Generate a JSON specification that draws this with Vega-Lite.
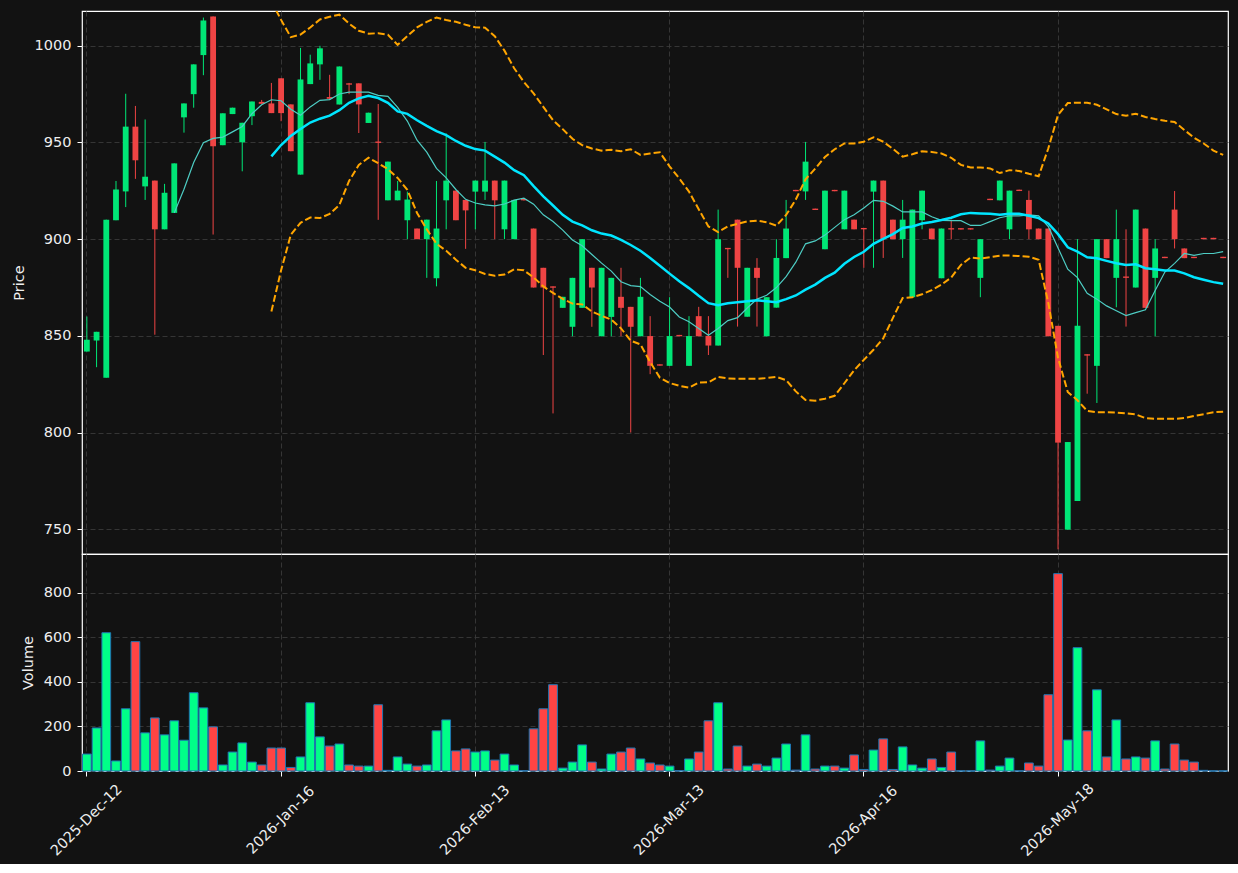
{
"$schema": "https://vega.github.io/schema/vega-lite/v6.json",
"background": "#121212",
"padding": {"left": 10, "top": 10, "right": 10, "bottom": 5},
"bounds": "flush",
"spacing": 0,
"config": {
 "view": {"stroke": "#ffffff", "strokeWidth": 1.2},
 "axis": {"domain": false, "labelColor": "#eeeeee", "titleColor": "#eeeeee", "labelFont": "DejaVu Sans", "titleFont": "DejaVu Sans", "labelFontSize": 14.5, "titleFontSize": 14.5, "titleFontWeight": "normal", "tickColor": "#ffffff", "tickSize": 5, "tickWidth": 1, "labelPadding": 6, "titlePadding": 8, "gridColor": "#3a3a3a", "gridDash": [5, 3], "gridWidth": 0.9}
},
"data": {"values": [
{"date":"2025-Dec-12","o":841.9,"h":860.0,"l":841.9,"c":848.0,"v":76},
{"date":"2025-Dec-15","o":847.6,"h":852.1,"l":833.8,"c":852.1,"v":193},
{"date":"2025-Dec-16","o":828.4,"h":910.1,"l":828.4,"c":910.1,"v":620},
{"date":"2025-Dec-17","o":909.8,"h":930.1,"l":909.8,"c":925.7,"v":45},
{"date":"2025-Dec-18","o":924.7,"h":975.2,"l":916.6,"c":958.2,"v":279},
{"date":"2025-Dec-19","o":958.2,"h":968.9,"l":931.2,"c":940.8,"v":580},
{"date":"2025-Dec-22","o":927.3,"h":961.9,"l":920.3,"c":932.3,"v":171},
{"date":"2025-Dec-23","o":930.3,"h":930.3,"l":850.6,"c":905.1,"v":238},
{"date":"2025-Dec-29","o":905.1,"h":928.6,"l":905.1,"c":924.0,"v":162},
{"date":"2025-Dec-30","o":913.6,"h":939.2,"l":913.6,"c":939.2,"v":225,"ma10":913.6},
{"date":"2025-Dec-31","o":963.0,"h":970.2,"l":955.1,"c":970.2,"v":138,"ma10":925.8},
{"date":"2026-Jan-05","o":975.0,"h":990.4,"l":968.0,"c":990.4,"v":351,"ma10":939.6},
{"date":"2026-Jan-06","o":995.2,"h":1014.6,"l":984.8,"c":1013.1,"v":283,"ma10":949.9},
{"date":"2026-Jan-07","o":1015.2,"h":1015.2,"l":902.4,"c":948.0,"v":198,"ma10":952.1},
{"date":"2026-Jan-08","o":948.6,"h":965.1,"l":948.6,"c":965.1,"v":27,"ma10":952.8},
{"date":"2026-Jan-09","o":964.7,"h":968.0,"l":964.7,"c":968.0,"v":85,"ma10":955.5},
{"date":"2026-Jan-12","o":950.1,"h":960.2,"l":935.1,"c":960.2,"v":126,"ma10":958.3},
{"date":"2026-Jan-13","o":963.6,"h":971.2,"l":959.0,"c":971.2,"v":40,"ma10":964.9},
{"date":"2026-Jan-14","o":971.0,"h":972.0,"l":970.0,"c":970.0,"v":27,"ma10":969.5},
{"date":"2026-Jan-15","o":970.2,"h":980.8,"l":965.2,"c":965.2,"v":103,"ma10":972.1,"ma20":942.8,"up":1023.0,"lo":862.6},
{"date":"2026-Jan-16","o":983.2,"h":983.2,"l":961.0,"c":965.2,"v":103,"ma10":971.6,"ma20":948.7,"up":1013.4,"lo":883.9},
{"date":"2026-Jan-19","o":969.7,"h":969.7,"l":945.5,"c":945.5,"v":16,"ma10":967.2,"ma20":953.4,"up":1004.5,"lo":902.3},
{"date":"2026-Jan-20","o":933.4,"h":998.9,"l":933.4,"c":982.6,"v":63,"ma10":964.1,"ma20":957.0,"up":1005.8,"lo":908.5},
{"date":"2026-Jan-21","o":980.2,"h":995.4,"l":980.2,"c":990.9,"v":306,"ma10":968.4,"ma20":960.3,"up":1009.5,"lo":911.2},
{"date":"2026-Jan-22","o":990.4,"h":1000.0,"l":982.4,"c":998.7,"v":153,"ma10":971.8,"ma20":962.3,"up":1013.6,"lo":910.9},
{"date":"2026-Jan-23","o":973.5,"h":985.0,"l":972.0,"c":972.6,"v":112,"ma10":972.2,"ma20":963.9,"up":1015.0,"lo":913.1},
{"date":"2026-Jan-26","o":969.7,"h":989.3,"l":969.7,"c":989.3,"v":121,"ma10":975.1,"ma20":966.7,"up":1016.1,"lo":917.7},
{"date":"2026-Jan-27","o":980.6,"h":980.8,"l":975.0,"c":979.9,"v":27,"ma10":976.0,"ma20":970.5,"up":1011.5,"lo":930.1},
{"date":"2026-Jan-28","o":980.6,"h":980.6,"l":954.9,"c":969.7,"v":22,"ma10":976.0,"ma20":972.8,"up":1007.8,"lo":938.4},
{"date":"2026-Jan-29","o":960.1,"h":965.4,"l":960.1,"c":965.4,"v":22,"ma10":976.0,"ma20":974.1,"up":1006.3,"lo":942.1},
{"date":"2026-Jan-30","o":950.5,"h":969.9,"l":910.0,"c":949.8,"v":297,"ma10":974.4,"ma20":973.0,"up":1006.5,"lo":939.3},
{"date":"2026-Feb-02","o":920.1,"h":940.1,"l":920.1,"c":940.1,"v":3,"ma10":973.9,"ma20":970.5,"up":1005.7,"lo":936.2},
{"date":"2026-Feb-03","o":920.1,"h":930.1,"l":920.1,"c":925.1,"v":63,"ma10":968.2,"ma20":966.1,"up":1000.5,"lo":931.7},
{"date":"2026-Feb-04","o":909.8,"h":924.6,"l":900.0,"c":920.5,"v":31,"ma10":961.1,"ma20":964.8,"up":1005.0,"lo":925.5},
{"date":"2026-Feb-05","o":905.5,"h":905.5,"l":900.0,"c":900.0,"v":22,"ma10":951.2,"ma20":961.5,"up":1009.5,"lo":913.5},
{"date":"2026-Feb-06","o":900.0,"h":910.1,"l":880.0,"c":910.1,"v":27,"ma10":945.0,"ma20":958.6,"up":1012.4,"lo":905.1},
{"date":"2026-Feb-09","o":879.8,"h":930.1,"l":875.6,"c":905.5,"v":180,"ma10":936.6,"ma20":955.9,"up":1014.6,"lo":897.7},
{"date":"2026-Feb-10","o":920.1,"h":954.7,"l":905.1,"c":930.3,"v":229,"ma10":931.7,"ma20":953.8,"up":1013.3,"lo":894.0},
{"date":"2026-Feb-11","o":925.1,"h":925.1,"l":909.8,"c":909.8,"v":90,"ma10":925.7,"ma20":950.8,"up":1012.4,"lo":889.4},
{"date":"2026-Feb-12","o":920.3,"h":920.3,"l":895.0,"c":914.9,"v":99,"ma10":920.6,"ma20":948.3,"up":1010.9,"lo":885.2},
{"date":"2026-Feb-13","o":924.6,"h":930.3,"l":905.1,"c":930.3,"v":85,"ma10":918.7,"ma20":946.6,"up":1009.6,"lo":883.9},
{"date":"2026-Feb-16","o":924.6,"h":950.3,"l":920.3,"c":930.3,"v":90,"ma10":917.7,"ma20":945.8,"up":1009.4,"lo":882.0},
{"date":"2026-Feb-17","o":930.3,"h":930.3,"l":900.0,"c":920.1,"v":49,"ma10":917.2,"ma20":942.7,"up":1005.0,"lo":881.1},
{"date":"2026-Feb-18","o":905.1,"h":930.3,"l":900.0,"c":930.3,"v":76,"ma10":918.2,"ma20":939.6,"up":997.5,"lo":881.7},
{"date":"2026-Feb-19","o":900.0,"h":920.3,"l":900.0,"c":920.3,"v":27,"ma10":920.2,"ma20":935.7,"up":988.4,"lo":884.4},
{"date":"2026-Feb-20","o":920.8,"h":920.8,"l":920.0,"c":920.1,"v":1,"ma10":921.2,"ma20":933.1,"up":981.3,"lo":883.9},
{"date":"2026-Feb-23","o":905.5,"h":905.5,"l":875.0,"c":875.0,"v":189,"ma10":918.1,"ma20":927.4,"up":975.4,"lo":880.2},
{"date":"2026-Feb-24","o":885.2,"h":885.2,"l":840.1,"c":875.0,"v":279,"ma10":912.6,"ma20":922.1,"up":968.4,"lo":875.6},
{"date":"2026-Feb-25","o":875.6,"h":875.6,"l":809.9,"c":874.9,"v":387,"ma10":909.1,"ma20":917.4,"up":961.5,"lo":872.2},
{"date":"2026-Feb-26","o":864.5,"h":870.2,"l":864.5,"c":870.2,"v":13,"ma10":904.7,"ma20":912.6,"up":956.9,"lo":869.1},
{"date":"2026-Feb-27","o":854.7,"h":880.0,"l":849.8,"c":880.0,"v":40,"ma10":899.6,"ma20":909.1,"up":951.9,"lo":866.7},
{"date":"2026-Mar-02","o":864.5,"h":900.0,"l":864.5,"c":900.0,"v":117,"ma10":896.6,"ma20":907.1,"up":948.6,"lo":866.3},
{"date":"2026-Mar-03","o":885.2,"h":885.2,"l":854.7,"c":875.0,"v":40,"ma10":892.1,"ma20":904.6,"up":946.9,"lo":862.6},
{"date":"2026-Mar-04","o":849.8,"h":885.2,"l":849.8,"c":885.2,"v":9,"ma10":887.6,"ma20":902.9,"up":945.8,"lo":860.4},
{"date":"2026-Mar-05","o":859.8,"h":880.0,"l":849.8,"c":880.0,"v":76,"ma10":883.5,"ma20":901.9,"up":946.2,"lo":858.4},
{"date":"2026-Mar-06","o":870.2,"h":885.2,"l":849.8,"c":864.5,"v":85,"ma10":878.0,"ma20":899.6,"up":945.5,"lo":853.9},
{"date":"2026-Mar-09","o":865.0,"h":865.0,"l":800.0,"c":854.7,"v":103,"ma10":876.0,"ma20":897.0,"up":946.5,"lo":847.5},
{"date":"2026-Mar-10","o":849.8,"h":880.0,"l":849.8,"c":870.2,"v":54,"ma10":875.5,"ma20":894.0,"up":943.6,"lo":845.6},
{"date":"2026-Mar-11","o":849.9,"h":860.2,"l":830.2,"c":834.5,"v":36,"ma10":871.4,"ma20":890.3,"up":944.3,"lo":836.5},
{"date":"2026-Mar-12","o":835.3,"h":835.3,"l":834.6,"c":834.6,"v":27,"ma10":867.9,"ma20":886.3,"up":944.9,"lo":828.4},
{"date":"2026-Mar-13","o":834.5,"h":870.0,"l":834.5,"c":849.9,"v":22,"ma10":864.9,"ma20":882.2,"up":937.7,"lo":825.6},
{"date":"2026-Mar-16","o":850.5,"h":850.5,"l":849.8,"c":849.8,"v":1,"ma10":859.8,"ma20":878.2,"up":931.4,"lo":824.2},
{"date":"2026-Mar-17","o":834.5,"h":860.2,"l":834.5,"c":849.9,"v":54,"ma10":857.3,"ma20":874.7,"up":924.6,"lo":823.2},
{"date":"2026-Mar-18","o":860.2,"h":865.0,"l":849.8,"c":849.8,"v":85,"ma10":853.8,"ma20":870.7,"up":915.5,"lo":825.8},
{"date":"2026-Mar-19","o":850.0,"h":860.2,"l":840.1,"c":845.0,"v":225,"ma10":850.3,"ma20":866.9,"up":906.6,"lo":826.0},
{"date":"2026-Mar-23","o":845.0,"h":915.3,"l":845.0,"c":900.0,"v":306,"ma10":853.8,"ma20":865.9,"up":903.7,"lo":828.8},
{"date":"2026-Mar-24","o":895.5,"h":895.5,"l":880.0,"c":894.8,"v":9,"ma10":857.9,"ma20":866.9,"up":906.6,"lo":828.0},
{"date":"2026-Mar-25","o":910.1,"h":910.1,"l":854.8,"c":885.2,"v":112,"ma10":859.4,"ma20":867.4,"up":907.9,"lo":827.8},
{"date":"2026-Mar-26","o":859.9,"h":885.2,"l":859.9,"c":885.2,"v":22,"ma10":864.4,"ma20":867.9,"up":909.2,"lo":827.8},
{"date":"2026-Mar-30","o":885.2,"h":890.2,"l":854.8,"c":880.0,"v":31,"ma10":869.0,"ma20":868.4,"up":909.6,"lo":827.8},
{"date":"2026-Mar-31","o":849.8,"h":870.0,"l":849.8,"c":870.0,"v":22,"ma10":871.0,"ma20":867.9,"up":908.8,"lo":828.2},
{"date":"2026-Apr-01","o":864.6,"h":900.0,"l":864.6,"c":890.3,"v":58,"ma10":875.0,"ma20":867.4,"up":907.0,"lo":828.8},
{"date":"2026-Apr-02","o":890.2,"h":920.3,"l":890.2,"c":905.5,"v":121,"ma10":880.6,"ma20":869.0,"up":912.5,"lo":827.1},
{"date":"2026-Apr-07","o":925.5,"h":925.5,"l":924.8,"c":924.8,"v":4,"ma10":888.1,"ma20":870.9,"up":920.5,"lo":821.3},
{"date":"2026-Apr-08","o":924.7,"h":950.3,"l":920.3,"c":940.1,"v":162,"ma10":897.6,"ma20":873.9,"up":931.0,"lo":816.8},
{"date":"2026-Apr-09","o":915.8,"h":915.8,"l":915.1,"c":915.1,"v":9,"ma10":899.1,"ma20":876.5,"up":936.5,"lo":816.5},
{"date":"2026-Apr-10","o":894.8,"h":925.1,"l":894.8,"c":925.1,"v":22,"ma10":902.1,"ma20":880.0,"up":942.5,"lo":817.5},
{"date":"2026-Apr-13","o":925.5,"h":925.5,"l":924.8,"c":924.8,"v":22,"ma10":906.1,"ma20":882.7,"up":946.5,"lo":819.0},
{"date":"2026-Apr-14","o":905.1,"h":925.1,"l":905.1,"c":925.1,"v":13,"ma10":910.1,"ma20":887.3,"up":949.5,"lo":825.5},
{"date":"2026-Apr-15","o":910.1,"h":910.1,"l":905.1,"c":905.1,"v":72,"ma10":912.6,"ma20":890.8,"up":949.5,"lo":832.2},
{"date":"2026-Apr-16","o":905.8,"h":905.8,"l":885.2,"c":905.1,"v":7,"ma10":916.1,"ma20":893.5,"up":950.4,"lo":837.6},
{"date":"2026-Apr-17","o":924.6,"h":930.3,"l":885.2,"c":930.3,"v":94,"ma10":920.1,"ma20":897.6,"up":952.7,"lo":842.8},
{"date":"2026-Apr-20","o":930.3,"h":930.3,"l":890.3,"c":900.0,"v":144,"ma10":919.6,"ma20":900.1,"up":950.4,"lo":848.7},
{"date":"2026-Apr-21","o":910.1,"h":910.1,"l":900.0,"c":900.0,"v":7,"ma10":917.1,"ma20":902.6,"up":946.7,"lo":859.3},
{"date":"2026-Apr-22","o":900.0,"h":920.3,"l":890.3,"c":910.1,"v":108,"ma10":914.1,"ma20":905.8,"up":942.7,"lo":869.6},
{"date":"2026-Apr-23","o":870.0,"h":915.3,"l":870.0,"c":915.3,"v":27,"ma10":914.1,"ma20":906.6,"up":943.9,"lo":870.0},
{"date":"2026-Apr-27","o":909.8,"h":925.1,"l":905.1,"c":925.1,"v":13,"ma10":914.1,"ma20":908.1,"up":945.5,"lo":871.5},
{"date":"2026-Apr-28","o":905.5,"h":905.5,"l":900.0,"c":900.0,"v":54,"ma10":911.6,"ma20":908.9,"up":945.1,"lo":873.7},
{"date":"2026-Apr-29","o":879.8,"h":905.5,"l":879.8,"c":905.5,"v":16,"ma10":909.7,"ma20":909.9,"up":944.3,"lo":876.5},
{"date":"2026-Apr-30","o":905.7,"h":910.1,"l":900.0,"c":905.0,"v":85,"ma10":909.6,"ma20":911.1,"up":942.1,"lo":880.2},
{"date":"2026-May-04","o":905.7,"h":905.7,"l":905.0,"c":905.0,"v":0,"ma10":909.6,"ma20":912.9,"up":938.4,"lo":886.7},
{"date":"2026-May-05","o":905.7,"h":905.7,"l":905.0,"c":905.0,"v":0,"ma10":907.1,"ma20":913.6,"up":937.1,"lo":890.5},
{"date":"2026-May-06","o":880.0,"h":900.0,"l":870.0,"c":900.0,"v":135,"ma10":907.1,"ma20":913.3,"up":937.1,"lo":890.0},
{"date":"2026-May-07","o":920.9,"h":920.9,"l":920.2,"c":920.2,"v":4,"ma10":909.1,"ma20":913.1,"up":936.6,"lo":890.7},
{"date":"2026-May-08","o":920.1,"h":930.3,"l":920.1,"c":930.3,"v":22,"ma10":911.1,"ma20":912.6,"up":934.2,"lo":891.5},
{"date":"2026-May-11","o":905.1,"h":925.1,"l":900.0,"c":925.1,"v":58,"ma10":912.1,"ma20":913.1,"up":935.7,"lo":891.5},
{"date":"2026-May-12","o":925.6,"h":925.6,"l":924.9,"c":924.9,"v":0,"ma10":912.1,"ma20":913.1,"up":935.3,"lo":891.3},
{"date":"2026-May-13","o":920.3,"h":925.1,"l":900.0,"c":905.1,"v":36,"ma10":912.6,"ma20":912.1,"up":933.8,"lo":890.9},
{"date":"2026-May-14","o":905.5,"h":905.5,"l":900.0,"c":900.0,"v":22,"ma10":912.1,"ma20":910.9,"up":932.5,"lo":889.4},
{"date":"2026-May-15","o":905.5,"h":905.5,"l":849.8,"c":849.8,"v":342,"ma10":906.5,"ma20":908.1,"up":947.0,"lo":867.0},
{"date":"2026-May-18","o":855.2,"h":855.2,"l":739.6,"c":794.8,"v":885,"ma10":895.5,"ma20":902.6,"up":964.3,"lo":838.6},
{"date":"2026-May-19","o":749.8,"h":795.1,"l":749.8,"c":795.1,"v":139,"ma10":884.5,"ma20":895.8,"up":970.4,"lo":821.0},
{"date":"2026-May-20","o":764.6,"h":900.0,"l":764.6,"c":855.2,"v":553,"ma10":880.1,"ma20":893.6,"up":970.6,"lo":816.7},
{"date":"2026-May-21","o":840.5,"h":840.5,"l":820.1,"c":839.8,"v":180,"ma10":872.0,"ma20":890.6,"up":970.6,"lo":811.2},
{"date":"2026-May-22","o":834.5,"h":900.0,"l":815.3,"c":900.0,"v":364,"ma10":869.0,"ma20":890.1,"up":969.5,"lo":810.5},
{"date":"2026-May-26","o":900.0,"h":900.0,"l":890.2,"c":890.2,"v":63,"ma10":865.5,"ma20":888.8,"up":967.1,"lo":810.5},
{"date":"2026-May-27","o":880.0,"h":915.3,"l":864.8,"c":900.0,"v":229,"ma10":863.0,"ma20":887.6,"up":964.7,"lo":810.3},
{"date":"2026-May-28","o":880.7,"h":905.1,"l":854.8,"c":880.0,"v":54,"ma10":860.5,"ma20":886.6,"up":963.9,"lo":809.9},
{"date":"2026-May-29","o":875.0,"h":915.3,"l":875.0,"c":915.3,"v":63,"ma10":862.0,"ma20":887.0,"up":964.9,"lo":809.4},
{"date":"2026-Jun-01","o":905.5,"h":905.5,"l":864.5,"c":864.5,"v":58,"ma10":863.5,"ma20":885.0,"up":963.2,"lo":807.5},
{"date":"2026-Jun-02","o":880.0,"h":900.0,"l":849.8,"c":895.2,"v":135,"ma10":873.5,"ma20":884.5,"up":962.1,"lo":807.1},
{"date":"2026-Jun-03","o":890.9,"h":890.9,"l":890.2,"c":890.2,"v":9,"ma10":883.0,"ma20":883.8,"up":961.2,"lo":807.1},
{"date":"2026-Jun-04","o":915.3,"h":924.9,"l":895.2,"c":900.0,"v":121,"ma10":887.5,"ma20":883.8,"up":960.6,"lo":807.1},
{"date":"2026-Jun-05","o":895.2,"h":895.2,"l":890.2,"c":890.2,"v":49,"ma10":892.6,"ma20":882.3,"up":956.5,"lo":807.5},
{"date":"2026-Jun-08","o":890.9,"h":890.9,"l":890.2,"c":890.2,"v":40,"ma10":891.6,"ma20":880.3,"up":952.5,"lo":808.6},
{"date":"2026-Jun-09","o":900.7,"h":900.7,"l":900.0,"c":900.0,"v":3,"ma10":892.6,"ma20":879.0,"up":949.5,"lo":809.5},
{"date":"2026-Jun-10","o":900.7,"h":900.7,"l":900.0,"c":900.0,"v":0,"ma10":892.6,"ma20":877.8,"up":945.8,"lo":810.5},
{"date":"2026-Jun-11","o":890.9,"h":890.9,"l":890.2,"c":890.2,"v":0,"ma10":893.6,"ma20":877.0,"up":943.6,"lo":810.8}
]},
"vconcat": [
 {
  "width": 1146,
  "height": 543,
  "encoding": {
   "x": {"field": "date", "type": "ordinal", "sort": null, "scale": {"paddingInner": 0, "paddingOuter": 0},
         "axis": {"values": ["2025-Dec-12", "2026-Jan-16", "2026-Feb-13", "2026-Mar-13", "2026-Apr-16", "2026-May-18"], "labels": false, "ticks": false, "title": null, "grid": true, "tickBand": "center"}}
  },
  "layer": [
   {"mark": {"type": "rule", "strokeWidth": 1},
    "encoding": {
     "y": {"field": "l", "type": "quantitative", "title": "Price", "scale": {"domain": [737.2, 1018], "nice": false, "zero": false},
           "axis": {"values": [750, 800, 850, 900, 950, 1000], "format": "d", "grid": true}},
     "y2": {"field": "h"},
     "color": {"condition": {"test": "datum.c >= datum.o", "value": "#00e676"}, "value": "#ef4444"}
    }},
   {"mark": {"type": "bar", "width": {"band": 0.6}},
    "encoding": {
     "y": {"field": "o", "type": "quantitative", "title": "Price"},
     "y2": {"field": "c"},
     "color": {"condition": {"test": "datum.c >= datum.o", "value": "#00e676"}, "value": "#ef4444"}
    }},
   {"mark": {"type": "line", "color": "#4ecdc4", "strokeWidth": 1.2, "clip": true},
    "encoding": {"y": {"field": "ma10", "type": "quantitative", "title": "Price"}}},
   {"mark": {"type": "line", "color": "#00e5ff", "strokeWidth": 2.5, "clip": true},
    "encoding": {"y": {"field": "ma20", "type": "quantitative", "title": "Price"}}},
   {"mark": {"type": "line", "color": "#ffa500", "strokeWidth": 2, "strokeDash": [7, 3], "clip": true},
    "encoding": {"y": {"field": "up", "type": "quantitative", "title": "Price"}}},
   {"mark": {"type": "line", "color": "#ffa500", "strokeWidth": 2, "strokeDash": [7, 3], "clip": true},
    "encoding": {"y": {"field": "lo", "type": "quantitative", "title": "Price"}}}
  ]
 },
 {
  "width": 1146,
  "height": 217,
  "mark": {"type": "bar", "width": {"band": 0.9}, "stroke": "#1f77b4", "strokeWidth": 1},
  "encoding": {
   "x": {"field": "date", "type": "ordinal", "sort": null, "scale": {"paddingInner": 0, "paddingOuter": 0},
         "axis": {"values": ["2025-Dec-12", "2026-Jan-16", "2026-Feb-13", "2026-Mar-13", "2026-Apr-16", "2026-May-18"], "title": null, "grid": true, "tickBand": "center", "labelAngle": -45, "labelAlign": "center", "labelBaseline": "middle", "labelPadding": 44}},
   "y": {"field": "v", "type": "quantitative", "title": "Volume", "scale": {"domain": [0, 973], "nice": false},
         "axis": {"values": [0, 200, 400, 600, 800], "grid": true}},
   "color": {"condition": {"test": "datum.c >= datum.o", "value": "#00ff88"}, "value": "#ff4444"}
  }
 }
]
}
